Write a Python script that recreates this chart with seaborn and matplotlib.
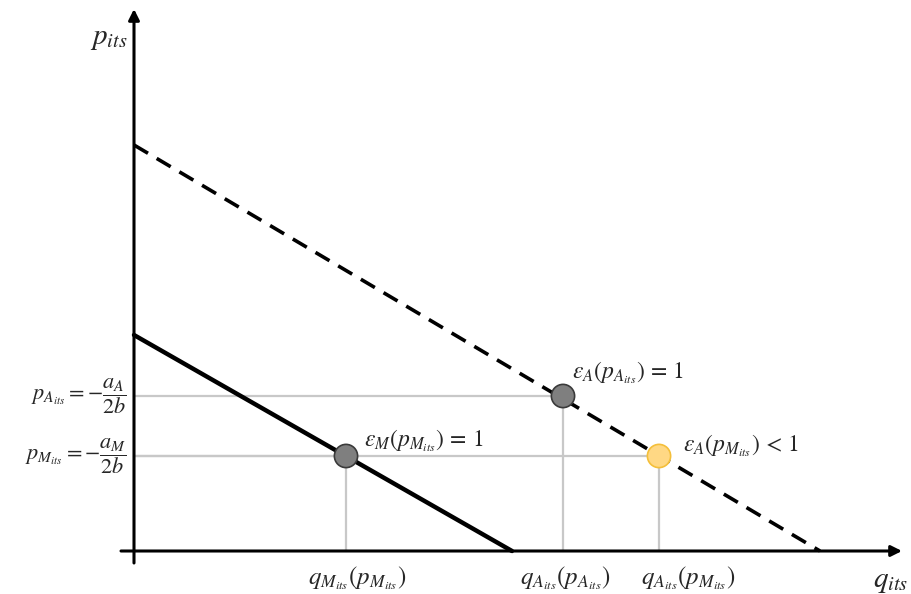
import pandas as pd
import seaborn as sns
import matplotlib.pyplot as plt

# demand line intercepts (q on x axis, p on y axis)
m_line_q = [0, 3.78]
m_line_p = [2.16, 0]
a_line_q = [0, 6.86]
a_line_p = [4.06, 0]

# points where elasticities are evaluated
point_kind = ['M', 'A', 'A_low']
point_q = [2.12, 4.29, 5.25]
point_p = [0.95, 1.55, 0.95]
point_text = [r'$\varepsilon_M\left(p_{M_{its}}\right)\,=\,1$',
              r'$\varepsilon_A\left(p_{A_{its}}\right)\,=\,1$',
              r'$\varepsilon_A\left(p_{M_{its}}\right)\,<\,1$']
q_labels = [r'$q_{M_{its}}\left(p_{M_{its}}\right)$',
            r'$q_{A_{its}}\left(p_{A_{its}}\right)$',
            r'$q_{A_{its}}\left(p_{M_{its}}\right)$']
p_labels = [r'$p_{A_{its}}=-\dfrac{a_A}{2b}$', r'$p_{M_{its}}=-\dfrac{a_M}{2b}$']
p_levels = [1.55, 0.95]

sns.set_style('white')
plt.rcParams['mathtext.fontset'] = 'stix'

fig = plt.figure(figsize=(9.11, 5.94), dpi=100)
ax = fig.add_axes([0, 0, 1, 1])
ax.set_xlim(-1.34, 7.77)
ax.set_ylim(-0.43, 5.51)
ax.axis('off')

df_pts = pd.DataFrame({'q': point_q, 'p': point_p, 'kind': point_kind})

# guide lines
for q, p in zip(point_q, point_p):
    ax.plot([0, q], [p, p], color='#c8c8c8', lw=1.6, zorder=1)
    ax.plot([q, q], [0, p], color='#c8c8c8', lw=1.6, zorder=1)

# demand lines
sns.lineplot(x=m_line_q, y=m_line_p, ax=ax, color='black', lw=3.2, zorder=3)
sns.lineplot(x=a_line_q, y=a_line_p, ax=ax, color='black', lw=2.6,
             linestyle=(0, (4.5, 2.8)), zorder=3)

# axes with arrows
ax.annotate('', xy=(7.68, 0), xytext=(-0.13, 0),
            arrowprops=dict(arrowstyle='-|>', lw=2.2, color='black', mutation_scale=16,
                            shrinkA=0, shrinkB=0), zorder=4)
ax.annotate('', xy=(0, 5.42), xytext=(0, -0.12),
            arrowprops=dict(arrowstyle='-|>', lw=2.2, color='black', mutation_scale=16,
                            shrinkA=0, shrinkB=0), zorder=4)

# points
sns.scatterplot(data=df_pts, x='q', y='p', hue='kind', ax=ax, s=280, zorder=5,
                palette={'M': '#7f7f7f', 'A': '#7f7f7f', 'A_low': '#ffd884'},
                edgecolor=['#3a3a3a', '#3a3a3a', '#f4bf3a'], linewidth=1.2, legend=False)

# labels
offsets = [(0.18, 0.15), (0.09, 0.23), (0.24, 0.10)]
for q, p, t, (dx, dy) in zip(point_q, point_p, point_text, offsets):
    ax.text(q + dx, p + dy, t, fontsize=17, ha='left', va='center')

q_centers = [2.23, 4.31, 5.54]
for xc, t in zip(q_centers, q_labels):
    ax.text(xc, -0.27, t, fontsize=18, ha='center', va='center')

for p, t in zip(p_levels, p_labels):
    ax.text(-0.07, p, t, fontsize=16, ha='right', va='center')

ax.text(-0.06, 5.13, r'$p_{its}$', fontsize=21, ha='right', va='center')
ax.text(7.74, -0.30, r'$q_{its}$', fontsize=21, ha='right', va='center')

fig.savefig('out.png', dpi=100)
